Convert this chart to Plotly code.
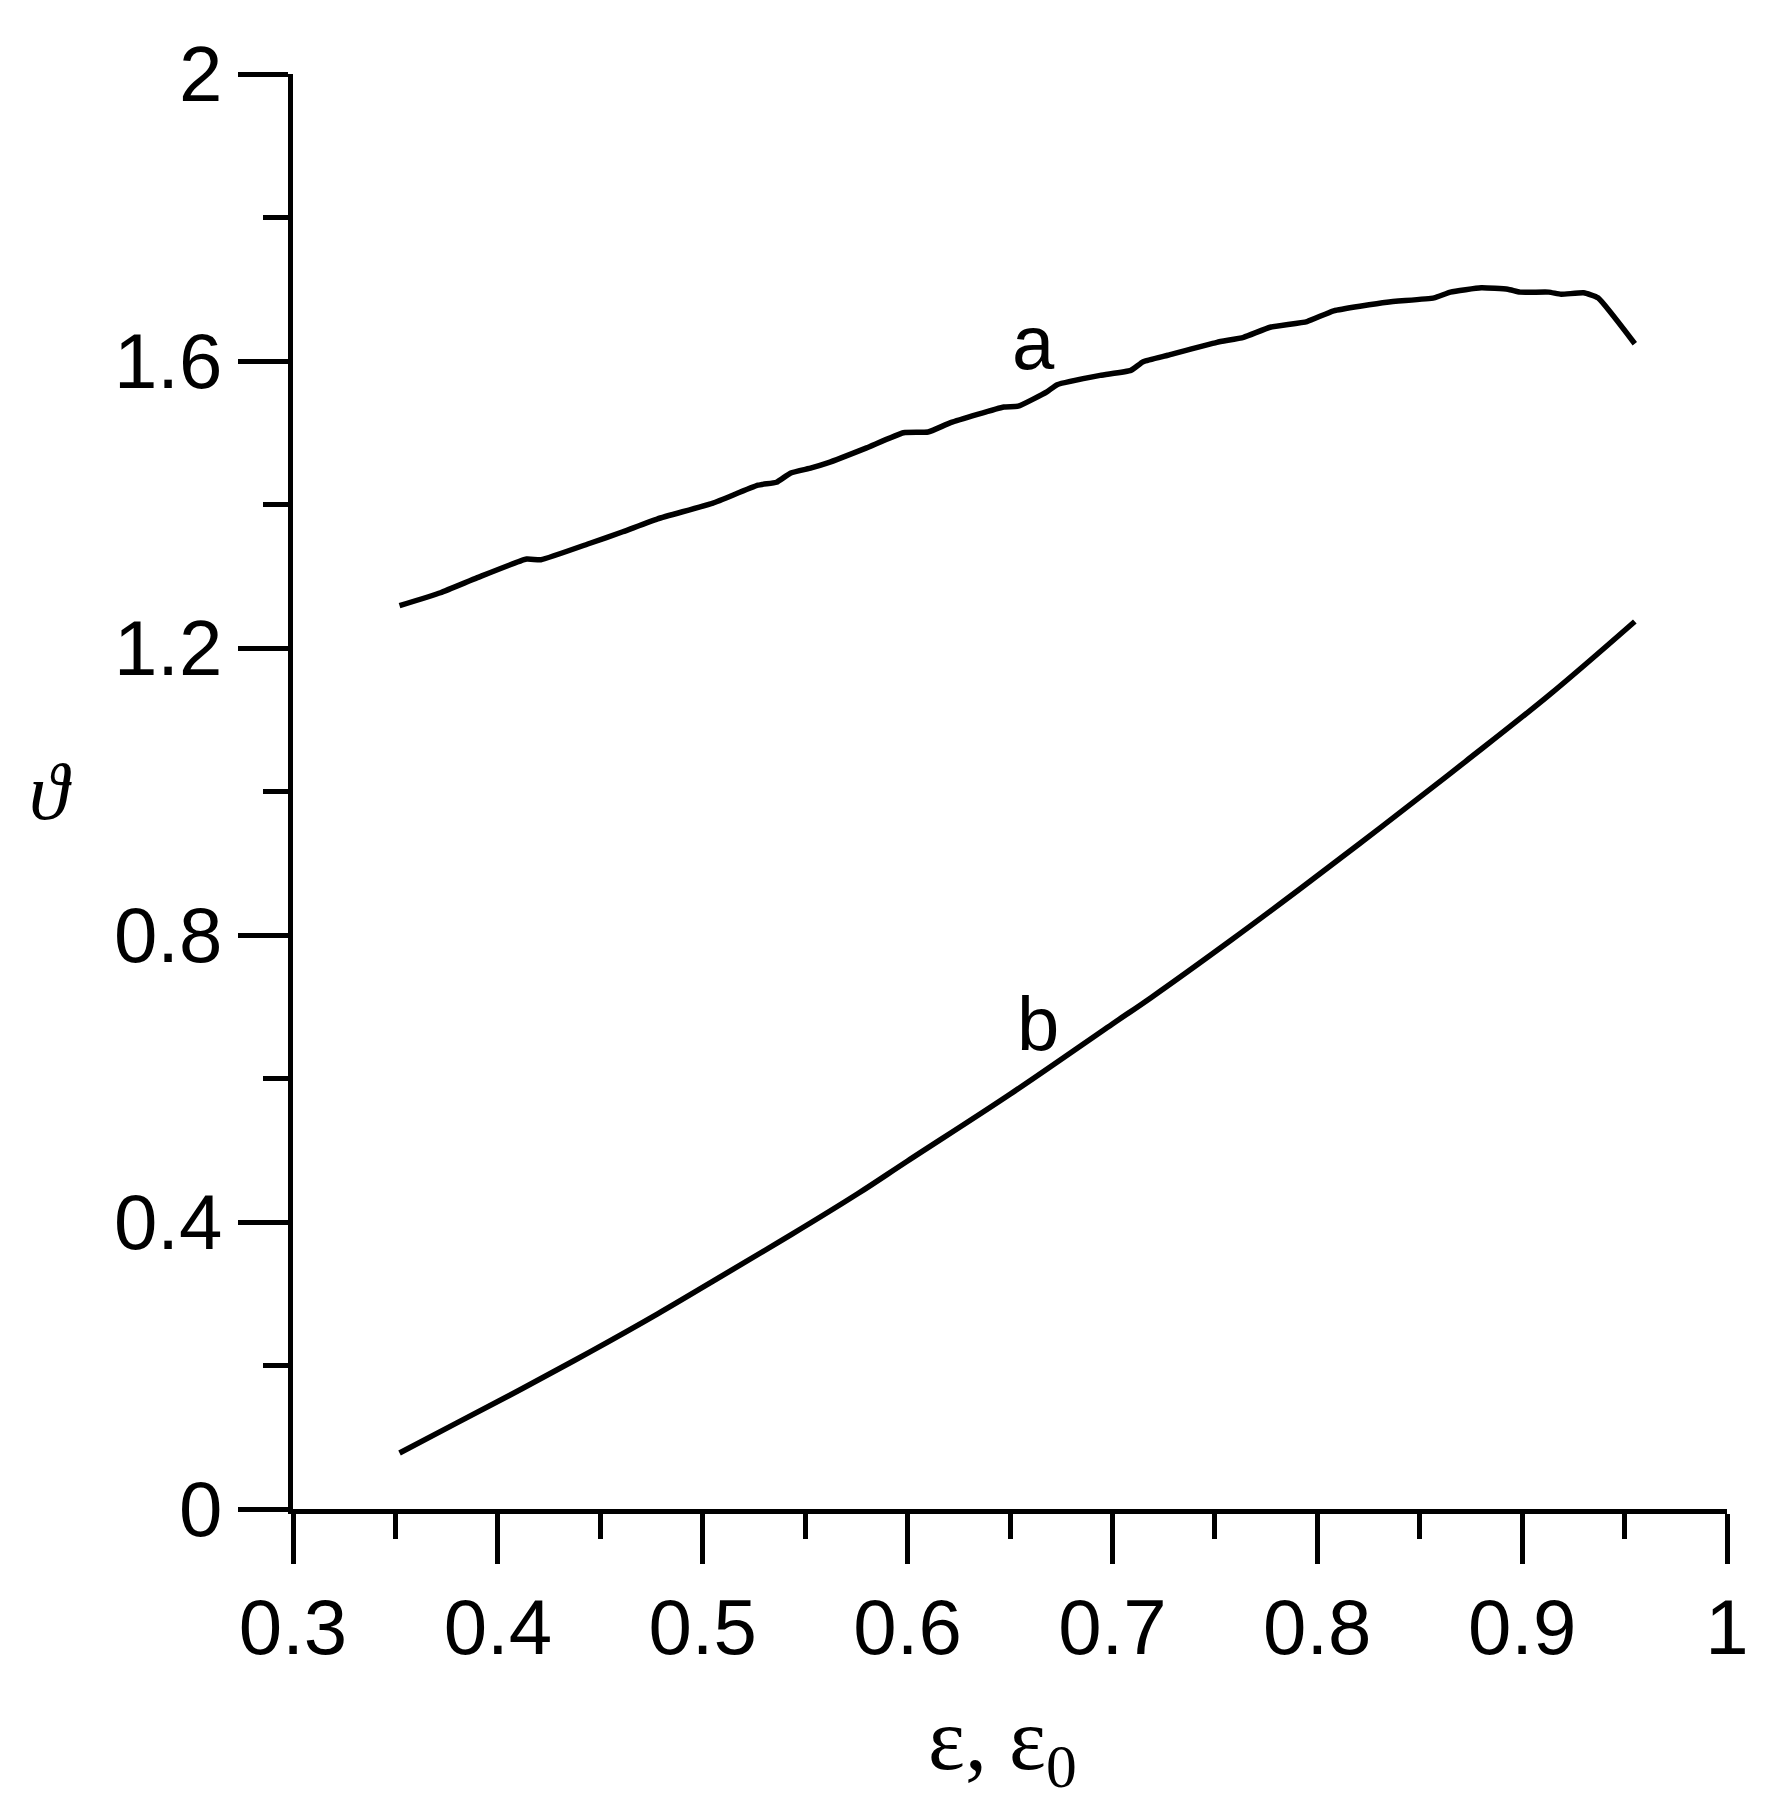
import plotly.graph_objects as go

# curve a
eps_a = [0.352, 0.372, 0.390, 0.414, 0.421, 0.445, 0.461, 0.478, 0.505, 0.527,
         0.536, 0.543, 0.553, 0.561, 0.580, 0.598, 0.610, 0.621, 0.647, 0.654,
         0.668, 0.673, 0.694, 0.709, 0.715, 0.727, 0.751, 0.764, 0.777, 0.795,
         0.808, 0.834, 0.857, 0.865, 0.880, 0.893, 0.899, 0.913, 0.919, 0.930,
         0.937, 0.955]
theta_a = [1.259, 1.277, 1.298, 1.324, 1.323, 1.346, 1.362, 1.380, 1.402, 1.427,
           1.431, 1.444, 1.451, 1.458, 1.479, 1.500, 1.501, 1.514, 1.536, 1.537,
           1.557, 1.567, 1.580, 1.587, 1.599, 1.608, 1.626, 1.633, 1.647, 1.655,
           1.670, 1.682, 1.688, 1.696, 1.702, 1.700, 1.696, 1.696, 1.693, 1.695,
           1.688, 1.624]

# curve b
eps_b = [0.352, 0.380, 0.412, 0.445, 0.478, 0.510, 0.543, 0.576, 0.600, 0.650,
         0.700, 0.719, 0.758, 0.791, 0.831, 0.872, 0.913, 0.955]
theta_b = [0.078, 0.120, 0.168, 0.219, 0.272, 0.326, 0.382, 0.440, 0.485, 0.578,
           0.676, 0.713, 0.793, 0.863, 0.950, 1.041, 1.134, 1.237]

curve_labels = ["a", "b"]
label_x = [0.6615, 0.6635]
label_y = [1.626, 0.676]

x_ticks = [0.3, 0.4, 0.5, 0.6, 0.7, 0.8, 0.9, 1.0]
x_ticktext = ["0.3", "0.4", "0.5", "0.6", "0.7", "0.8", "0.9", "1"]
y_ticks = [0, 0.4, 0.8, 1.2, 1.6, 2.0]
y_ticktext = ["0", "0.4", "0.8", "1.2", "1.6", "2"]

fig = go.Figure()
fig.add_trace(go.Scatter(x=eps_a, y=theta_a, mode="lines",
                         line=dict(color="black", width=5.5, shape="spline", smoothing=0.4)))
fig.add_trace(go.Scatter(x=eps_b, y=theta_b, mode="lines",
                         line=dict(color="black", width=5.5, shape="spline", smoothing=1.0)))

for txt, lx, ly in zip(curve_labels, label_x, label_y):
    fig.add_annotation(x=lx, y=ly, text=txt, showarrow=False,
                       xanchor="center", yanchor="middle",
                       font=dict(family="Liberation Sans, Arial", size=76, color="black"))

# axis titles
fig.add_annotation(xref="paper", yref="paper", x=0.5, y=0, yshift=-236, xshift=-8,
                   text="ε, ε<sub>0</sub>", showarrow=False,
                   xanchor="center", yanchor="middle",
                   font=dict(family="Liberation Serif, Times New Roman", size=88, color="black"))
fig.add_annotation(xref="paper", yref="y", x=0, y=1.0, xshift=-243,
                   text="<i>ϑ</i>", showarrow=False,
                   xanchor="center", yanchor="middle",
                   font=dict(family="Liberation Serif, Times New Roman", size=80, color="black"))

axis_font = dict(family="Liberation Sans, Arial", size=78, color="black")
fig.update_xaxes(range=[0.3, 1.0], tickvals=x_ticks, ticktext=x_ticktext,
                 ticks="outside", ticklen=50, tickwidth=5, tickcolor="black",
                 ticklabelstandoff=-4,
                 showline=True, linewidth=5, linecolor="black",
                 showgrid=False, zeroline=False, tickfont=axis_font,
                 minor=dict(tickvals=[0.35, 0.45, 0.55, 0.65, 0.75, 0.85, 0.95],
                            ticks="outside", ticklen=25, tickwidth=5, tickcolor="black",
                            showgrid=False))
fig.update_yaxes(range=[0, 2.0], tickvals=y_ticks, ticktext=y_ticktext,
                 ticks="outside", ticklen=50, tickwidth=5, tickcolor="black",
                 showline=True, linewidth=5, linecolor="black",
                 showgrid=False, zeroline=False, tickfont=axis_font,
                 minor=dict(tickvals=[0.2, 0.6, 1.0, 1.4, 1.8],
                            ticks="outside", ticklen=25, tickwidth=5, tickcolor="black",
                            showgrid=False))

# page body has an 8px margin, so margins are trimmed to land the axes in place
fig.update_layout(width=1780, height=1801, showlegend=False,
                  plot_bgcolor="white", paper_bgcolor="white",
                  margin=dict(l=285, r=61, t=66, b=300))
fig.write_html("out.html")
